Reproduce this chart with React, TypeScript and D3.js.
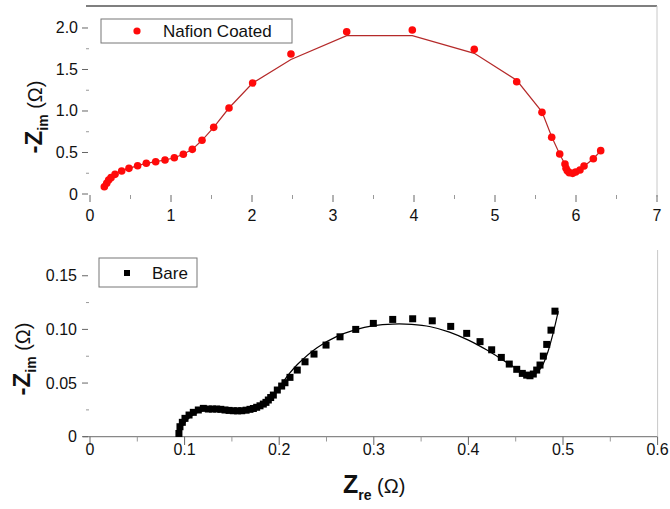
import React from "react";
import * as d3 from "d3";

// ---- Data: Nafion Coated (top panel) ----
const nafionX = [0.177, 0.206, 0.23, 0.259, 0.309, 0.391, 0.481, 0.588, 0.695, 0.811, 0.926, 1.041, 1.152, 1.263, 1.383, 1.527, 1.716, 2.008, 2.481, 3.169, 3.979, 4.744, 5.268, 5.58, 5.7, 5.799, 5.864, 5.877, 5.893, 5.917, 5.959, 5.996, 6.049, 6.099, 6.214, 6.305];
const nafionY = [0.088, 0.129, 0.169, 0.197, 0.237, 0.277, 0.309, 0.341, 0.37, 0.389, 0.41, 0.437, 0.478, 0.538, 0.647, 0.803, 1.036, 1.337, 1.687, 1.955, 1.976, 1.743, 1.353, 0.984, 0.683, 0.482, 0.361, 0.31, 0.281, 0.257, 0.249, 0.265, 0.289, 0.337, 0.425, 0.522];
const nafionFitY = [0.088, 0.129, 0.169, 0.197, 0.237, 0.277, 0.309, 0.341, 0.37, 0.389, 0.41, 0.437, 0.478, 0.538, 0.647, 0.803, 1.036, 1.337, 1.62, 1.907, 1.907, 1.695, 1.37, 0.99, 0.69, 0.48, 0.36, 0.32, 0.29, 0.265, 0.255, 0.262, 0.29, 0.335, 0.425, 0.52];

// ---- Data: Bare (bottom panel) ----
const bareX = [0.094, 0.0951, 0.0976, 0.1004, 0.1047, 0.1092, 0.1145, 0.1198, 0.1251, 0.1295, 0.1339, 0.1383, 0.1427, 0.147, 0.1515, 0.156, 0.1604, 0.165, 0.1691, 0.1727, 0.1762, 0.1797, 0.1832, 0.186, 0.1885, 0.191, 0.1938, 0.198, 0.2026, 0.2061, 0.2114, 0.2191, 0.2273, 0.2368, 0.2495, 0.2643, 0.2809, 0.2995, 0.32, 0.3411, 0.3618, 0.3813, 0.3982, 0.4123, 0.4246, 0.4348, 0.4432, 0.4511, 0.457, 0.4616, 0.4651, 0.4686, 0.4722, 0.4757, 0.4792, 0.4828, 0.4873, 0.4915];
const bareY = [0.003, 0.0093, 0.0134, 0.0171, 0.0202, 0.0227, 0.0249, 0.0264, 0.0258, 0.0258, 0.0258, 0.0255, 0.0249, 0.0245, 0.0242, 0.0241, 0.0242, 0.0247, 0.0255, 0.0263, 0.0274, 0.0288, 0.0304, 0.032, 0.0342, 0.0365, 0.0388, 0.0435, 0.0472, 0.0503, 0.0553, 0.0621, 0.0698, 0.077, 0.0854, 0.0931, 0.1, 0.1056, 0.1093, 0.1099, 0.108, 0.1028, 0.0963, 0.0886, 0.081, 0.0739, 0.0677, 0.0628, 0.059, 0.0574, 0.0568, 0.0584, 0.0621, 0.0668, 0.0751, 0.086, 0.0993, 0.117];
const bareFitX = [0.093, 0.097, 0.103, 0.11, 0.12, 0.135, 0.15, 0.165, 0.18, 0.19, 0.2, 0.21, 0.22, 0.24, 0.26, 0.28, 0.3, 0.32, 0.34, 0.36, 0.38, 0.4, 0.42, 0.44, 0.455, 0.465, 0.472, 0.478, 0.484, 0.49, 0.495];
const bareFitY = [0.0, 0.009, 0.016, 0.021, 0.0245, 0.0255, 0.0245, 0.024, 0.028, 0.035, 0.046, 0.058, 0.068, 0.083, 0.093, 0.0995, 0.1035, 0.105, 0.1047, 0.1025, 0.0975, 0.09, 0.0805, 0.0695, 0.0615, 0.058, 0.0595, 0.066, 0.079, 0.098, 0.117];

// ---- Ticks ----
const topXTicks = [0, 1, 2, 3, 4, 5, 6, 7];
const topYTicks = [0, 0.5, 1.0, 1.5, 2.0];
const botXTicks = [0, 0.1, 0.2, 0.3, 0.4, 0.5, 0.6];
const botYTicks = [0, 0.05, 0.1, 0.15];

const FONT = "Liberation Sans, Arial, sans-serif";

export default function App() {
  const xTop = d3.scaleLinear().domain([0, 7]).range([90, 657]);
  const yTop = d3.scaleLinear().domain([0, 2.265]).range([194, 6]);
  const xBot = d3.scaleLinear().domain([0, 0.6]).range([90, 657.6]);
  const yBot = d3.scaleLinear().domain([0, 0.174]).range([436.7, 250]);

  const topFitLine = d3
    .line<number>()
    .x((_, i) => xTop(nafionX[i]))
    .y((_, i) => yTop(nafionFitY[i]))(nafionX) as string;

  const botFitLine = d3
    .line<number>()
    .x((_, i) => xBot(bareFitX[i]))
    .y((_, i) => yBot(bareFitY[i]))
    .curve(d3.curveCatmullRom.alpha(0.5))(bareFitX) as string;

  const fmtTopY = (v: number) => (v === 0 ? "0" : d3.format(".1f")(v));
  const fmtBotY = (v: number) => (v === 0 ? "0" : d3.format(".2f")(v));
  const fmtBotX = (v: number) => (v === 0 ? "0" : d3.format(".1f")(v));

  const topXMinor = topXTicks.slice(0, -1).map((v) => v + 0.5);
  const topYMinor = topYTicks.slice(0, -1).map((v) => v + 0.25);
  const botXMinor = botXTicks.slice(0, -1).map((v) => v + 0.05);
  const botYMinor = botYTicks.slice(0, -1).map((v) => v + 0.025);

  const tickColor = "#666";

  return (
    <div style={{ position: "absolute", left: 0, top: 0 }}>
      <svg width={670} height={509} style={{ display: "block", background: "#fff" }} fontFamily={FONT}>
        {/* ===== TOP PANEL ===== */}
        <line x1={86} x2={657} y1={6} y2={6} stroke="#555" strokeWidth={1.5} />
        <line x1={657} x2={657} y1={6} y2={197} stroke="#c8c8c8" strokeWidth={1} />
        {topXTicks.map((v) => (
          <g key={"tx" + v}>
            <line x1={xTop(v)} x2={xTop(v)} y1={195} y2={202} stroke={tickColor} strokeWidth={1} />
            <text x={xTop(v)} y={221} fontSize={16} textAnchor="middle" fill="#111">
              {v}
            </text>
          </g>
        ))}
        {topXMinor.map((v) => (
          <line key={"txm" + v} x1={xTop(v)} x2={xTop(v)} y1={195} y2={199} stroke="#999" strokeWidth={1} />
        ))}
        {topYTicks.map((v) => (
          <g key={"ty" + v}>
            <line x1={82} x2={88} y1={yTop(v)} y2={yTop(v)} stroke={tickColor} strokeWidth={1} />
            <text x={78} y={yTop(v) + 5.5} fontSize={16} textAnchor="end" fill="#111">
              {fmtTopY(v)}
            </text>
          </g>
        ))}
        {topYMinor.map((v) => (
          <line key={"tym" + v} x1={86} x2={89} y1={yTop(v)} y2={yTop(v)} stroke="#999" strokeWidth={1} />
        ))}
        <path d={topFitLine} fill="none" stroke="#b52a2a" strokeWidth={1.2} />
        {nafionX.map((x, i) => (
          <circle key={"np" + i} cx={xTop(x)} cy={yTop(nafionY[i])} r={3.8} fill="#ff0a0a" />
        ))}
        <rect x={101} y={19} width={191} height={24} fill="#fff" stroke="#777" strokeWidth={1} />
        <circle cx={137} cy={31} r={3.6} fill="#ff0a0a" />
        <text x={163} y={37} fontSize={17} fill="#111">
          Nafion Coated
        </text>
        <text transform="translate(42,117) rotate(-90)" textAnchor="middle" fill="#111">
          <tspan fontSize={24} fontWeight="bold">-Z</tspan>
          <tspan fontSize={14} fontWeight="bold" dy={6}>im</tspan>
          <tspan fontSize={20} dy={-6}> (Ω)</tspan>
        </text>

        {/* ===== BOTTOM PANEL ===== */}
        <line x1={83} x2={657.6} y1={436.7} y2={436.7} stroke="#888" strokeWidth={1.2} />
        <line x1={657.6} x2={657.6} y1={250} y2={436.7} stroke="#c8c8c8" strokeWidth={1} />
        {botXTicks.map((v) => (
          <g key={"bx" + v}>
            <line x1={xBot(v)} x2={xBot(v)} y1={436.7} y2={445} stroke={tickColor} strokeWidth={1} />
            <text x={xBot(v)} y={455} fontSize={16} textAnchor="middle" fill="#111">
              {fmtBotX(v)}
            </text>
          </g>
        ))}
        {botXMinor.map((v) => (
          <line key={"bxm" + v} x1={xBot(v)} x2={xBot(v)} y1={436.7} y2={441.5} stroke="#999" strokeWidth={1} />
        ))}
        {botYTicks.map((v) => (
          <g key={"by" + v}>
            <line x1={82} x2={88} y1={yBot(v)} y2={yBot(v)} stroke={tickColor} strokeWidth={1} />
            <text x={77} y={yBot(v) + 5.5} fontSize={16} textAnchor="end" fill="#111">
              {fmtBotY(v)}
            </text>
          </g>
        ))}
        {botYMinor.map((v) => (
          <line key={"bym" + v} x1={86} x2={89} y1={yBot(v)} y2={yBot(v)} stroke="#999" strokeWidth={1} />
        ))}
        {bareX.map((x, i) => (
          <rect key={"bp" + i} x={xBot(x) - 3.5} y={yBot(bareY[i]) - 3.5} width={7} height={7} fill="#000" />
        ))}
        <path d={botFitLine} fill="none" stroke="#000" strokeWidth={1.2} />
        <rect x={99} y={258} width={98} height={29} fill="#fff" stroke="#777" strokeWidth={1} />
        <rect x={124} y={270} width={6} height={6} fill="#000" />
        <text x={152} y={279} fontSize={17} fill="#111">
          Bare
        </text>
        <text transform="translate(30,359) rotate(-90)" textAnchor="middle" fill="#111">
          <tspan fontSize={24} fontWeight="bold">-Z</tspan>
          <tspan fontSize={14} fontWeight="bold" dy={6}>im</tspan>
          <tspan fontSize={20} dy={-6}> (Ω)</tspan>
        </text>
        <text x={343} y={493} fill="#111">
          <tspan fontSize={25} fontWeight="bold">Z</tspan>
          <tspan fontSize={14} fontWeight="bold" dy={7}>re</tspan>
          <tspan fontSize={20} dy={-7}> (Ω)</tspan>
        </text>
      </svg>
    </div>
  );
}
